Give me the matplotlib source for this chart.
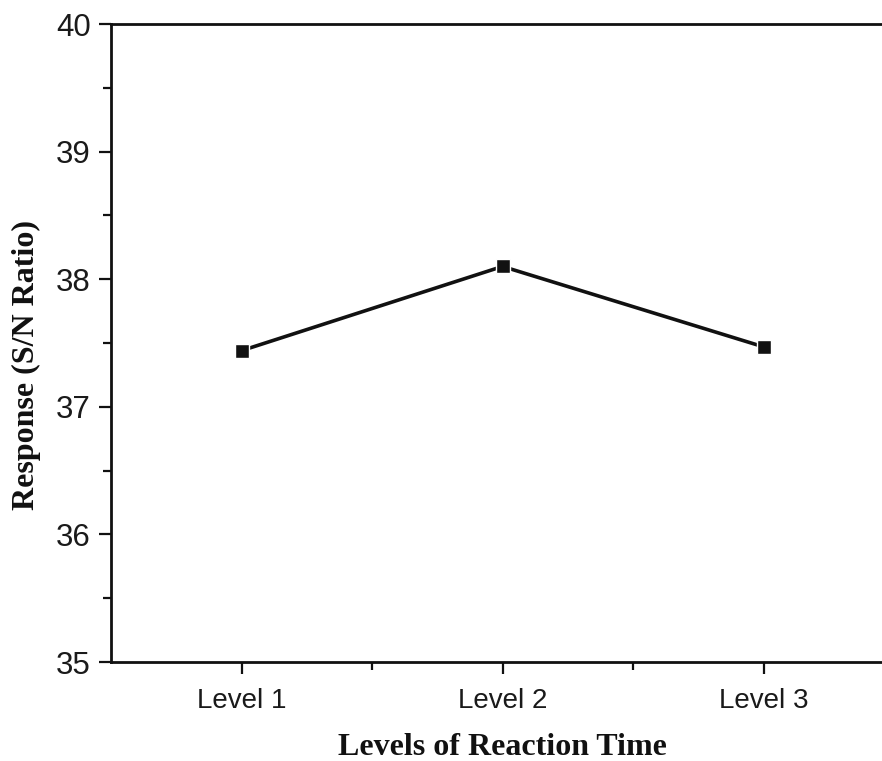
import matplotlib
matplotlib.use("Agg")
import matplotlib.pyplot as plt
from matplotlib.ticker import MultipleLocator, FixedLocator

levels = ["Level 1", "Level 2", "Level 3"]
sn_ratio = [37.44, 38.10, 37.47]

W, H = 882, 761
fig = plt.figure(figsize=(W/100, H/100), dpi=100)
left, right, top, bottom = 111, 111 + 3*261, 24, 662
ax = fig.add_axes([left/W, 1 - bottom/H, (right-left)/W, (bottom-top)/H])

x = list(range(1, len(levels)+1))
ax.plot(x, sn_ratio, color="#111111", lw=2.6, marker="s", markersize=9.5,
        markerfacecolor="#111111", markeredgecolor="white", markeredgewidth=1.0)

ax.set_xlim(0.5, 3.5)
ax.set_ylim(35, 40)
ax.set_xticks(x)
ax.set_xticklabels(levels)
ax.xaxis.set_minor_locator(FixedLocator([1.5, 2.5]))
ax.yaxis.set_major_locator(MultipleLocator(1))
ax.yaxis.set_minor_locator(MultipleLocator(0.5))

ax.spines["right"].set_visible(False)
for s in ["left", "bottom", "top"]:
    ax.spines[s].set_linewidth(2.0)
    ax.spines[s].set_color("#111111")

ax.tick_params(which="major", direction="out", length=8.5, width=1.6,
               colors="#111111")
ax.tick_params(which="minor", direction="out", length=6, width=1.6, colors="#111111")
ax.tick_params(axis="y", which="major", labelsize=22.5, pad=6)
ax.tick_params(axis="x", which="major", labelsize=20, pad=10)
for lab in ax.get_xticklabels() + ax.get_yticklabels():
    lab.set_fontfamily("Liberation Sans")
    lab.set_color("#1a1a1a")

ax.set_xlabel("Levels of Reaction Time", fontfamily="Liberation Serif",
              fontweight="bold", fontsize=23, color="#111111")
ax.set_ylabel("Response (S/N Ratio)", fontfamily="Liberation Serif",
              fontweight="bold", fontsize=23, color="#111111")
ax.xaxis.set_label_coords(0.5, (662 - 755) / 638, transform=ax.transAxes)
ax.xaxis.label.set_va("baseline")
ax.yaxis.set_label_coords((26 - 111) / 783, (662 - 365) / 638, transform=ax.transAxes)
ax.yaxis.label.set_va("center")

fig.savefig("out.png", dpi=100)
